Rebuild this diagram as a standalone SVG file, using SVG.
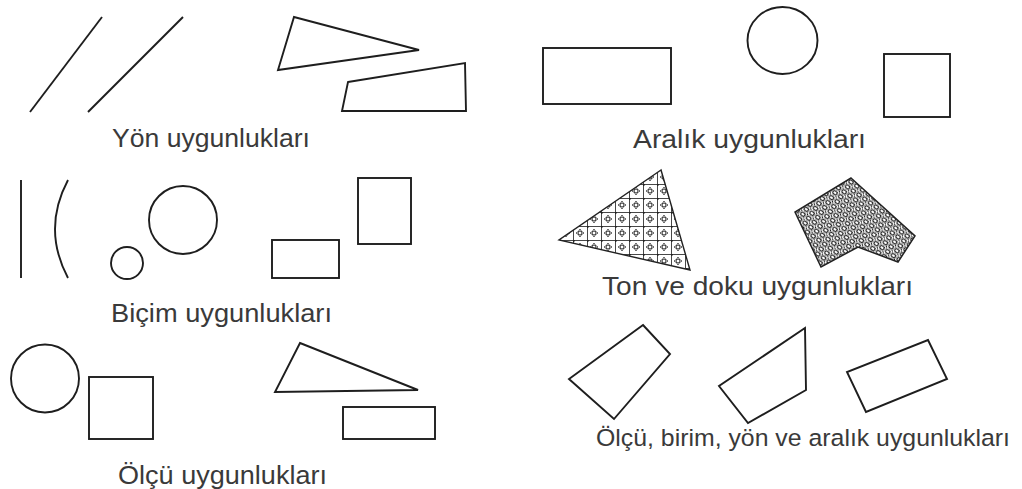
<svg xmlns="http://www.w3.org/2000/svg" width="1022" height="489" viewBox="0 0 1022 489">
<style>
.s{fill:none;stroke:#1e1e1e;stroke-width:1.9;stroke-linejoin:miter}
.t{font-family:"Liberation Sans",Arial,sans-serif;font-size:26px;fill:#3a3a3a}
</style>
<defs>
<pattern id="tex1" patternUnits="userSpaceOnUse" width="14" height="14" x="559" y="170">
<rect width="14" height="14" fill="#fff"/>
<path d="M0,0.5H14M0.5,0V14" stroke="#333" stroke-width="0.9" fill="none"/>
<path d="M3,7 Q7,3.5 11,7 Q7,10.5 3,7Z" fill="none" stroke="#333" stroke-width="0.8"/>
<path d="M7,3 Q10.5,7 7,11 Q3.5,7 7,3Z" fill="none" stroke="#333" stroke-width="0.8"/>
<circle cx="0.5" cy="0.5" r="1.4" fill="#222"/>
</pattern>
<pattern id="tex2" patternUnits="userSpaceOnUse" width="7" height="6" patternTransform="rotate(35)">
<rect width="7" height="6" fill="#fff"/>
<ellipse cx="3.5" cy="3" rx="2.4" ry="1.8" fill="#fff" stroke="#1a1a1a" stroke-width="1.2"/>
<circle cx="0" cy="0" r="1.3" fill="#111"/>
<circle cx="7" cy="6" r="1.3" fill="#111"/>
</pattern>
</defs>
<rect width="1022" height="489" fill="#fff"/>

<g id="yon">
<line class="s" x1="102" y1="17" x2="30" y2="112"/>
<line class="s" x1="183" y1="17" x2="88" y2="112"/>
<polygon class="s" points="294,17 419,50 278,70"/>
<polygon class="s" points="348,82 465,63 466,111 342,111"/>
<text class="t" x="112" y="147" textLength="198" lengthAdjust="spacingAndGlyphs">Yön uygunlukları</text>
</g>

<g id="aralik">
<rect class="s" x="543" y="48" width="128" height="56"/>
<ellipse class="s" cx="782.5" cy="40.5" rx="35" ry="33.5"/>
<rect class="s" x="884" y="54" width="66" height="63"/>
<text class="t" x="633" y="148" textLength="233" lengthAdjust="spacingAndGlyphs">Aralık uygunlukları</text>
</g>

<g id="bicim">
<line class="s" x1="21" y1="180" x2="21" y2="278"/>
<path class="s" d="M68,180 Q42,229 68,278"/>
<circle class="s" cx="183" cy="220" r="34"/>
<circle class="s" cx="127" cy="263" r="16"/>
<rect class="s" x="272" y="240" width="67" height="38"/>
<rect class="s" x="358" y="178" width="53" height="66"/>
<text class="t" x="111" y="322" textLength="221" lengthAdjust="spacingAndGlyphs">Biçim uygunlukları</text>
</g>

<g id="ton">
<polygon points="661,170 559,240 690,270" fill="url(#tex1)" stroke="#222" stroke-width="1.4"/>
<polygon points="851,178 915,236 898,262 858,247 821,267 795,212" fill="url(#tex2)" stroke="#222" stroke-width="1.5"/>
<text class="t" x="602" y="295" textLength="311" lengthAdjust="spacingAndGlyphs">Ton ve doku uygunlukları</text>
</g>

<g id="olcu">
<circle class="s" cx="45" cy="378.5" r="34"/>
<rect class="s" x="89" y="377" width="64" height="62"/>
<polygon class="s" points="300,343 418,390 275,392"/>
<rect class="s" x="343" y="407" width="92" height="32"/>
<text class="t" x="118" y="484" textLength="209" lengthAdjust="spacingAndGlyphs">Ölçü uygunlukları</text>
</g>

<g id="olcu-birim">
<polygon class="s" points="643,325 670,354 614,419 569,379"/>
<polygon class="s" points="805,328 806,390 748,423 719,386"/>
<polygon class="s" points="928,340 947,379 866,412 847,372"/>
<text class="t" x="596" y="446" style="font-size:24.5px" textLength="414" lengthAdjust="spacingAndGlyphs">Ölçü, birim, yön ve aralık uygunlukları</text>
</g>
</svg>
